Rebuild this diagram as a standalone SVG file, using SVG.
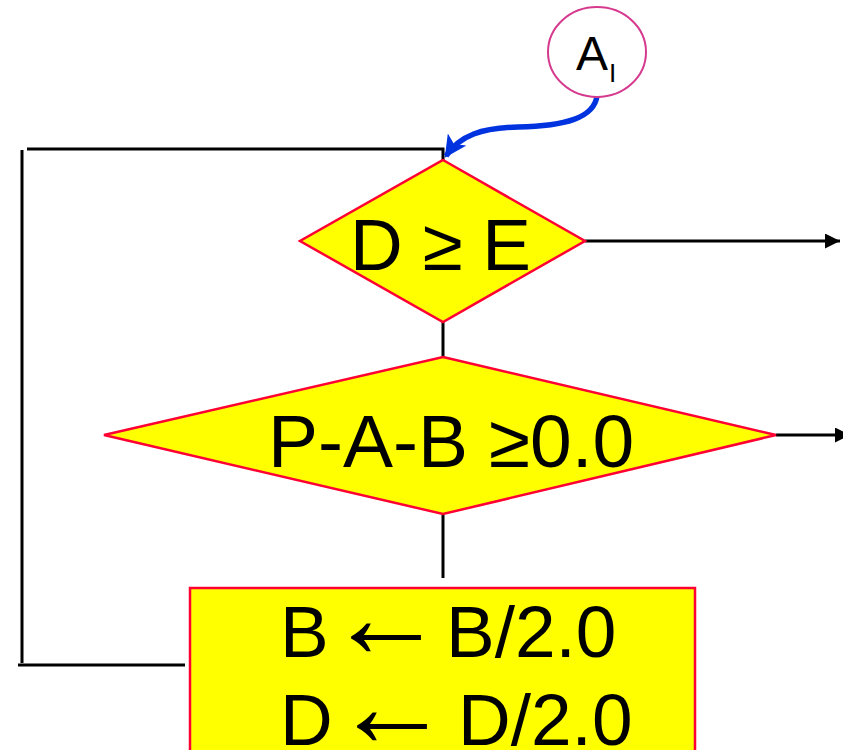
<svg xmlns="http://www.w3.org/2000/svg" width="843" height="750" viewBox="0 0 843 750">
<style>
.shape{fill:#ffff00;stroke:#ff0033;stroke-width:2.5}
.ln{fill:none;stroke:#000;stroke-width:3}
.t{font-family:"Liberation Sans",Arial,sans-serif;fill:#000}
.big{font-size:73px}
.arr{font-family:"Liberation Sans",Arial,sans-serif;font-size:118px;fill:#000}
</style>
<defs>
<marker id="ah" viewBox="0 0 10 10" refX="10" refY="5" markerWidth="5" markerHeight="5" markerUnits="strokeWidth" orient="auto">
<path d="M0,0 L10,5 L0,10 z" fill="#000"/>
</marker>
<marker id="bh" viewBox="0 0 10 10" refX="9" refY="5" markerWidth="4" markerHeight="4" markerUnits="strokeWidth" orient="auto">
<path d="M0,0 L10,5 L0,10 L2.5,5 z" fill="#0033e0"/>
</marker>
</defs>
<g id="connectors">
<path class="ln" d="M27,149 H443 V160"/>
<path class="ln" d="M22,150 V663"/>
<path class="ln" d="M18,665 H185"/>
<path class="ln" d="M585,241 H840" marker-end="url(#ah)"/>
<path class="ln" d="M443,322 V357"/>
<path class="ln" d="M776,435 H850" marker-end="url(#ah)"/>
<path class="ln" d="M443,514 V578"/>
<path d="M597,96 C594,118 565,126 518,127 C482,128 460,135 446,156" fill="none" stroke="#0033e0" stroke-width="5.5" marker-end="url(#bh)"/>
</g>
<g id="nodeA">
<ellipse cx="597" cy="52" rx="49" ry="45" fill="#fff" stroke="#d63a8f" stroke-width="2"/>
<text class="t" x="576" y="70" font-size="48">A</text>
<text class="t" x="609" y="82" font-size="26">I</text>
</g>
<g id="dec1">
<polygon class="shape" points="443,160 585,241 443,322 300,241"/>
<text class="t big" x="350" y="270" textLength="181" lengthAdjust="spacing">D ≥ E</text>
</g>
<g id="dec2">
<polygon class="shape" points="443,357 776,435 443,514 104,435"/>
<text class="t" x="268" y="467" font-size="75">P-A-B ≥0.0</text>
</g>
<g id="proc">
<rect class="shape" x="190" y="588" width="505" height="180"/>
<text class="t big" x="280" y="657">B</text>
<text class="arr" x="327" y="657">←</text>
<text class="t big" x="446" y="657">B/2.0</text>
<text class="t big" x="280" y="745">D</text>
<text class="arr" x="333" y="746">←</text>
<text class="t big" x="458" y="745">D/2.0</text>
</g>
</svg>
